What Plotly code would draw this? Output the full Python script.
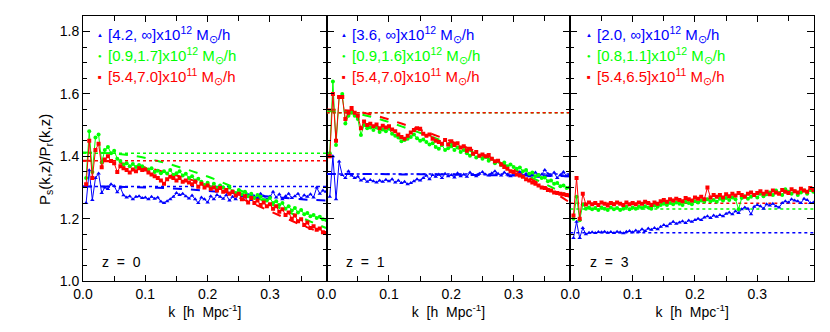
import plotly.graph_objects as go
from plotly.subplots import make_subplots

# k grid of the measured ratios [h/Mpc]
k = [0.005, 0.010, 0.015, 0.020, 0.025, 0.030, 0.035, 0.040, 0.045, 0.050,
     0.055, 0.060, 0.065, 0.070, 0.075, 0.080, 0.085, 0.090, 0.095, 0.100,
     0.105, 0.110, 0.115, 0.120, 0.125, 0.130, 0.135, 0.140, 0.145, 0.150,
     0.155, 0.160, 0.165, 0.170, 0.175, 0.180, 0.185, 0.190, 0.195, 0.200,
     0.205, 0.210, 0.215, 0.220, 0.225, 0.230, 0.235, 0.240, 0.245, 0.250,
     0.255, 0.260, 0.265, 0.270, 0.275, 0.280, 0.285, 0.290, 0.295, 0.300,
     0.305, 0.310, 0.315, 0.320, 0.325, 0.330, 0.335, 0.340, 0.345, 0.350,
     0.355, 0.360, 0.365, 0.370, 0.375, 0.380, 0.385, 0.390]

# z = 0
z0_blue = [1.250, 1.355, 1.260, 1.330, 1.345, 1.282, 1.300, 1.295, 1.310, 1.305,
           1.285, 1.300, 1.275, 1.268, 1.272, 1.262, 1.270, 1.272, 1.266, 1.268,
           1.262, 1.270, 1.264, 1.268, 1.255, 1.250, 1.256, 1.262, 1.270, 1.282,
           1.276, 1.280, 1.272, 1.265, 1.274, 1.262, 1.250, 1.268, 1.262, 1.252,
           1.272, 1.262, 1.276, 1.270, 1.264, 1.276, 1.258, 1.270, 1.262, 1.280,
           1.272, 1.268, 1.276, 1.260, 1.272, 1.266, 1.280, 1.272, 1.262, 1.270,
           1.286, 1.268, 1.278, 1.262, 1.272, 1.280, 1.266, 1.272, 1.280, 1.265,
           1.275, 1.270, 1.278, 1.268, 1.300, 1.280, 1.290, 1.286]
z0_green = [1.330, 1.480, 1.350, 1.460, 1.470, 1.380, 1.420, 1.430, 1.410, 1.418,
            1.392, 1.385, 1.372, 1.378, 1.368, 1.375, 1.366, 1.372, 1.368, 1.360,
            1.358, 1.362, 1.350, 1.354, 1.346, 1.352, 1.345, 1.356, 1.340, 1.346,
            1.352, 1.338, 1.344, 1.330, 1.336, 1.322, 1.328, 1.318, 1.308, 1.315,
            1.300, 1.312, 1.298, 1.306, 1.300, 1.292, 1.300, 1.288, 1.282, 1.292,
            1.278, 1.286, 1.272, 1.280, 1.266, 1.276, 1.270, 1.260, 1.258, 1.266,
            1.250, 1.256, 1.244, 1.250, 1.232, 1.240, 1.226, 1.234, 1.220, 1.228,
            1.214, 1.218, 1.208, 1.212, 1.202, 1.206, 1.198, 1.196]
z0_red = [1.310, 1.450, 1.330, 1.420, 1.440, 1.365, 1.390, 1.400, 1.385, 1.378,
          1.350, 1.368, 1.362, 1.356, 1.348, 1.358, 1.352, 1.362, 1.356, 1.358,
          1.348, 1.342, 1.336, 1.330, 1.322, 1.312, 1.326, 1.334, 1.330, 1.322,
          1.330, 1.318, 1.322, 1.316, 1.310, 1.318, 1.302, 1.312, 1.300, 1.306,
          1.296, 1.300, 1.290, 1.298, 1.286, 1.292, 1.280, 1.286, 1.274, 1.280,
          1.262, 1.272, 1.252, 1.266, 1.250, 1.258, 1.244, 1.252, 1.240, 1.246,
          1.232, 1.240, 1.222, 1.230, 1.212, 1.220, 1.200, 1.210, 1.192, 1.198,
          1.180, 1.188, 1.170, 1.176, 1.164, 1.168, 1.156, 1.154]

# z = 1
z1_blue = [1.270, 1.400, 1.262, 1.383, 1.340, 1.330, 1.352, 1.338, 1.330, 1.335,
           1.322, 1.328, 1.318, 1.324, 1.320, 1.316, 1.322, 1.318, 1.325, 1.320,
           1.326, 1.316, 1.322, 1.314, 1.318, 1.310, 1.314, 1.320, 1.326, 1.322,
           1.330, 1.338, 1.326, 1.340, 1.334, 1.342, 1.330, 1.344, 1.336, 1.340,
           1.332, 1.346, 1.336, 1.342, 1.334, 1.348, 1.340, 1.336, 1.344, 1.350,
           1.342, 1.338, 1.346, 1.352, 1.344, 1.338, 1.348, 1.342, 1.336, 1.346,
           1.340, 1.350, 1.338, 1.344, 1.336, 1.340, 1.348, 1.334, 1.342, 1.356,
           1.344, 1.338, 1.348, 1.330, 1.340, 1.350, 1.336, 1.342]
z1_green = [1.410, 1.640, 1.436, 1.590, 1.600, 1.505, 1.530, 1.540, 1.530, 1.520,
            1.468, 1.500, 1.490, 1.492, 1.484, 1.492, 1.478, 1.486, 1.480, 1.488,
            1.472, 1.466, 1.460, 1.448, 1.452, 1.456, 1.462, 1.470, 1.458, 1.450,
            1.454, 1.446, 1.438, 1.442, 1.430, 1.424, 1.436, 1.420, 1.426, 1.432,
            1.420, 1.428, 1.414, 1.420, 1.410, 1.402, 1.408, 1.396, 1.402, 1.392,
            1.398, 1.386, 1.392, 1.378, 1.384, 1.372, 1.380, 1.368, 1.374, 1.366,
            1.360, 1.364, 1.352, 1.356, 1.344, 1.348, 1.336, 1.340, 1.330, 1.332,
            1.320, 1.322, 1.312, 1.314, 1.304, 1.306, 1.298, 1.300]
z1_red = [1.400, 1.600, 1.450, 1.590, 1.590, 1.520, 1.540, 1.555, 1.540, 1.530,
          1.490, 1.512, 1.500, 1.504, 1.496, 1.502, 1.490, 1.498, 1.492, 1.496,
          1.486, 1.480, 1.470, 1.462, 1.456, 1.466, 1.476, 1.484, 1.490, 1.488,
          1.472, 1.466, 1.470, 1.456, 1.450, 1.446, 1.440, 1.452, 1.438, 1.448,
          1.436, 1.442, 1.428, 1.432, 1.418, 1.424, 1.408, 1.414, 1.402, 1.406,
          1.400, 1.404, 1.392, 1.384, 1.386, 1.374, 1.366, 1.360, 1.352, 1.350,
          1.342, 1.338, 1.334, 1.326, 1.322, 1.316, 1.312, 1.306, 1.300, 1.298,
          1.292, 1.290, 1.284, 1.282, 1.280, 1.278, 1.276, 1.274]

# z = 3
z3_blue = [1.138, 1.190, 1.138, 1.170, 1.150, 1.155, 1.156, 1.154, 1.157, 1.156,
           1.158, 1.155, 1.157, 1.154, 1.158, 1.156, 1.153, 1.158, 1.160, 1.156,
           1.162, 1.158, 1.166, 1.160, 1.168, 1.164, 1.170, 1.166, 1.174, 1.180,
           1.176, 1.184, 1.190, 1.184, 1.188, 1.192, 1.186, 1.194, 1.190, 1.196,
           1.200, 1.196, 1.204, 1.208, 1.202, 1.210, 1.206, 1.212, 1.208, 1.216,
           1.220, 1.214, 1.224, 1.218, 1.230, 1.236, 1.232, 1.214, 1.238, 1.244,
           1.240, 1.232, 1.246, 1.242, 1.248, 1.240, 1.236, 1.250, 1.256, 1.252,
           1.262, 1.258, 1.256, 1.250, 1.264, 1.260, 1.250, 1.252]
z3_green = [1.200, 1.270, 1.195, 1.245, 1.232, 1.236, 1.230, 1.234, 1.228, 1.236,
            1.232, 1.228, 1.236, 1.230, 1.234, 1.228, 1.232, 1.238, 1.230, 1.236,
            1.232, 1.238, 1.234, 1.240, 1.236, 1.232, 1.242, 1.238, 1.244, 1.248,
            1.244, 1.250, 1.246, 1.252, 1.248, 1.244, 1.254, 1.250, 1.246, 1.256,
            1.252, 1.258, 1.254, 1.262, 1.256, 1.260, 1.254, 1.264, 1.258, 1.266,
            1.260, 1.268, 1.262, 1.230, 1.266, 1.272, 1.264, 1.270, 1.276, 1.268,
            1.280, 1.272, 1.278, 1.284, 1.276, 1.290, 1.282, 1.276, 1.294, 1.286,
            1.280, 1.288, 1.276, 1.284, 1.290, 1.280, 1.292, 1.286]
z3_red = [1.210, 1.330, 1.200, 1.280, 1.245, 1.252, 1.246, 1.250, 1.244, 1.252,
          1.248, 1.242, 1.250, 1.246, 1.252, 1.248, 1.244, 1.252, 1.246, 1.250,
          1.246, 1.252, 1.248, 1.254, 1.250, 1.244, 1.252, 1.248, 1.256, 1.260,
          1.254, 1.262, 1.258, 1.264, 1.260, 1.256, 1.266, 1.262, 1.258, 1.268,
          1.264, 1.270, 1.262, 1.300, 1.268, 1.276, 1.270, 1.276, 1.268, 1.278,
          1.272, 1.280, 1.274, 1.282, 1.276, 1.270, 1.280, 1.284, 1.276, 1.282,
          1.288, 1.280, 1.286, 1.278, 1.290, 1.284, 1.280, 1.292, 1.286, 1.282,
          1.294, 1.288, 1.284, 1.296, 1.290, 1.286, 1.298, 1.292]

# model curves (dashed) and large-scale limits (dotted)
k_model = [0.0, 0.04, 0.08, 0.12, 0.16, 0.20, 0.24, 0.28, 0.32, 0.36, 0.39]
z0_blue_model = [1.303, 1.303, 1.301, 1.299, 1.295, 1.289, 1.282, 1.274, 1.267, 1.261, 1.258]
z0_green_model = [1.412, 1.410, 1.402, 1.385, 1.362, 1.335, 1.302, 1.266, 1.230, 1.195, 1.170]
z0_red_model = [1.386, 1.384, 1.372, 1.355, 1.333, 1.306, 1.276, 1.242, 1.206, 1.172, 1.150]
z1_blue_model = [1.343, 1.343, 1.343, 1.342, 1.342, 1.341, 1.340, 1.339, 1.338, 1.337, 1.336]
z1_green_model = [1.545, 1.540, 1.522, 1.496, 1.468, 1.440, 1.410, 1.376, 1.340, 1.302, 1.272]
z1_red_model = [1.550, 1.546, 1.530, 1.505, 1.478, 1.448, 1.415, 1.378, 1.336, 1.290, 1.252]

k_limit = [0.0, 0.39]
limits = {
    0: {"blue": 1.303, "#00ff00": 1.410, "red": 1.386},
    1: {"blue": 1.343, "#00ff00": 1.540, "red": 1.540},
    2: {"blue": 1.155, "#00ff00": 1.231, "red": 1.249},
}

labels = [
    ["[4.2, ∞]x10<sup>12</sup> M<sub>⊙</sub>/h",
     "[0.9,1.7]x10<sup>12</sup> M<sub>⊙</sub>/h",
     "[5.4,7.0]x10<sup>11</sup> M<sub>⊙</sub>/h"],
    ["[3.6, ∞]x10<sup>12</sup> M<sub>⊙</sub>/h",
     "[0.9,1.6]x10<sup>12</sup> M<sub>⊙</sub>/h",
     "[5.4,7.0]x10<sup>11</sup> M<sub>⊙</sub>/h"],
    ["[2.0, ∞]x10<sup>12</sup> M<sub>⊙</sub>/h",
     "[0.8,1.1]x10<sup>12</sup> M<sub>⊙</sub>/h",
     "[5.4,6.5]x10<sup>11</sup> M<sub>⊙</sub>/h"],
]
NB = "\u00a0"
redshifts = [f"z{NB*2}={NB*2}0", f"z{NB*2}={NB*2}1", f"z{NB*2}={NB*2}3"]

colors = ["blue", "#00ff00", "red"]
symbols = ["triangle-up", "circle", "square"]
glyphs = ["▲", "●", "■"]

data = [
    [z0_blue, z0_green, z0_red],
    [z1_blue, z1_green, z1_red],
    [z3_blue, z3_green, z3_red],
]
models = [
    [z0_blue_model, z0_green_model, z0_red_model],
    [z1_blue_model, z1_green_model, z1_red_model],
    None,
]

FONT = "Liberation Sans, Arial, sans-serif"

fig = make_subplots(rows=1, cols=3, shared_yaxes=True, horizontal_spacing=0)

for p in range(3):
    col = p + 1
    for j in range(3):
        c = colors[j]
        fig.add_trace(go.Scatter(
            x=k_limit, y=[limits[p][c]] * 2, mode="lines",
            line=dict(color=c, width=1.5, dash="dot"), showlegend=False,
        ), row=1, col=col)
        if models[p] is not None:
            fig.add_trace(go.Scatter(
                x=k_model, y=models[p][j], mode="lines", line_shape="spline",
                line=dict(color=c, width=2, dash="dash"), showlegend=False,
            ), row=1, col=col)
    for j in range(3):
        fig.add_trace(go.Scatter(
            x=k, y=data[p][j], mode="lines+markers",
            line=dict(color=colors[j], width=1),
            marker=dict(symbol=symbols[j], size=4, color=colors[j]),
            showlegend=False,
        ), row=1, col=col)

# page is drawn with an 8px body margin; plot area in page pixels
OFF = 8
L, R, T, B = 83, 814, 16, 281
W, H = 830, 332


def px(x, y):
    return (x - L) / (R - L), (B - y) / (B - T)


legend_x = [(100, 106), (344, 350), (589, 595)]
legend_y = [35, 56, 77]
for p in range(3):
    for j in range(3):
        sx, sy = px(legend_x[p][0], legend_y[j])
        tx, _ = px(legend_x[p][1], legend_y[j])
        fig.add_annotation(x=sx, y=sy, xref="paper", yref="paper", text=glyphs[j],
                           showarrow=False, xanchor="center", yanchor="middle",
                           font=dict(size=6, color=colors[j], family=FONT))
        fig.add_annotation(x=tx, y=sy, xref="paper", yref="paper", text=labels[p][j],
                           showarrow=False, xanchor="left", yanchor="middle",
                           font=dict(size=15, color=colors[j], family=FONT))
    zx, zy = px(L + 244 * p + 17, 262)
    fig.add_annotation(x=zx, y=zy, xref="paper", yref="paper", text=redshifts[p],
                       showarrow=False, xanchor="left", yanchor="middle",
                       font=dict(size=14, color="black", family=FONT))

yx, yy = px(45, 160)
fig.add_annotation(x=yx, y=yy, xref="paper", yref="paper",
                   text="P<sub>s</sub>(k,z)/P<sub>r</sub>(k,z)", textangle=-90,
                   showarrow=False, xanchor="center", yanchor="middle",
                   font=dict(size=15, color="black", family=FONT))

fig.update_xaxes(
    range=[0, 0.391], dtick=0.1, tick0=0, tickformat=".1f",
    ticks="inside", ticklen=6, tickcolor="black", showline=True, linecolor="black",
    linewidth=1, mirror="ticks", showgrid=False, zeroline=False,
    minor=dict(dtick=0.05, ticks="inside", ticklen=5, tickcolor="black"),
    title=dict(text=f"k{NB*2}[h{NB*2}Mpc<sup>-1</sup>]", standoff=4,
               font=dict(size=14, family=FONT, color="black")),
    tickfont=dict(size=14, family=FONT, color="black"),
)
fig.update_yaxes(
    range=[1.0, 1.85], dtick=0.2, tick0=1.0, tickformat=".1f",
    ticks="inside", ticklen=7, tickcolor="black", showline=True, linecolor="black",
    linewidth=1, mirror="ticks", showgrid=False, zeroline=False,
    minor=dict(dtick=0.05, ticks="inside", ticklen=4, tickcolor="black"),
    tickfont=dict(size=14, family=FONT, color="black"),
)

fig.update_layout(
    width=W - OFF, height=H - OFF,
    margin=dict(l=L - OFF, r=W - R, t=T - OFF, b=H - B),
    plot_bgcolor="white", paper_bgcolor="white",
    font=dict(family=FONT, size=14, color="black"),
    showlegend=False,
)

fig.write_html("out.html")
